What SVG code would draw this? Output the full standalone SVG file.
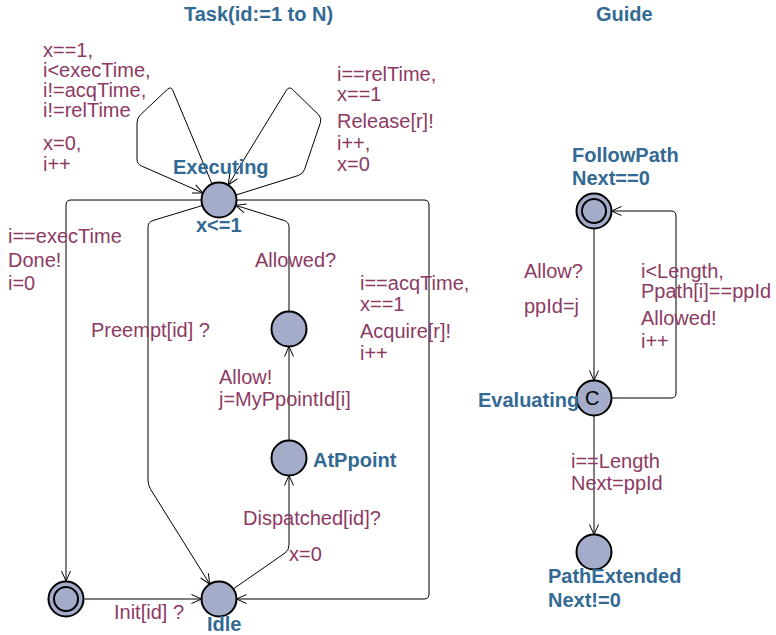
<svg xmlns="http://www.w3.org/2000/svg" width="776" height="635" viewBox="0 0 776 635">
  <defs>
    <marker id="arrow" viewBox="-12 -6 14 12" markerWidth="14" markerHeight="12" refX="0" refY="0" orient="auto" markerUnits="userSpaceOnUse">
      <path d="M -10 -4.5 L 0 0 L -10 4.5" fill="none" stroke="#000" stroke-width="1"/>
    </marker>
  </defs>
  <style>
    text { font-family: "Liberation Sans", Arial, Helvetica, sans-serif; font-size: 20px; }
    .title { font-weight: bold; fill: #336a94; }
    .name { font-weight: bold; fill: #336a94; }
    .lbl { fill: #8d3a63; }
    .loc { fill: #a4acca; stroke: #000; stroke-width: 2; }
    .inner { fill: none; stroke: #000; stroke-width: 2; }
    .edge { fill: none; stroke: #000; stroke-width: 1; marker-end: url(#arrow); }
  </style>
  <rect width="776" height="635" fill="#fff"/>

  <text class="title" x="184" y="21">Task(id:=1 to N)</text>
  <text class="title" x="596" y="21">Guide</text>

  <!-- transitions -->
  <g id="edges">
    <!-- Task: self loop on Executing (left) -->
    <path class="edge" d="M212,184 L172.9,90.6 Q171,86 167.4,89.4 L140.6,114.6 Q137,118 137,123 L137,159 Q137,164 141.6,166 L203,193"/>
    <!-- Task: self loop on Executing (right) -->
    <path class="edge" d="M236,195 L298.2,175.5 Q303,174 304.6,169.3 L320.4,122.7 Q322,118 318.4,114.5 L292.6,89.5 Q289,86 286.4,90.3 L228.3,185"/>
    <!-- Executing -> Idle (acquire) -->
    <path class="edge" d="M236.5,200 L424,200 Q429,200 429,205 L429,594 Q429,599 424,599 L236.5,599"/>
    <!-- Executing -> initial (done) -->
    <path class="edge" d="M201.5,200 L71,200 Q66,200 66,205 L66,581"/>
    <!-- Executing -> Idle (preempt) -->
    <path class="edge" d="M202.4,205.5 L153,220.5 Q148,222 148,227 L148,480 Q148,485 150.6,489.3 L209.8,584.1"/>
    <!-- waiting -> Executing (allowed) -->
    <path class="edge" d="M289,311.5 L289,227 Q289,222 284.2,220.5 L235.7,205.3"/>
    <!-- AtPpoint -> waiting (allow) -->
    <path class="edge" d="M289,440.5 L289,346.5"/>
    <!-- Idle -> AtPpoint (dispatched) -->
    <path class="edge" d="M233.3,588.9 L285,553 Q289,550 289,545 L289,475.5"/>
    <!-- initial -> Idle -->
    <path class="edge" d="M84.5,599 L201.5,599"/>
    <!-- Guide: FollowPath -> Evaluating -->
    <path class="edge" d="M594,228.5 L594,380.5"/>
    <!-- Guide: Evaluating -> FollowPath -->
    <path class="edge" d="M611.5,398 L671,398 Q676,398 676,393 L676,216 Q676,211 671,211 L611.5,211"/>
    <!-- Guide: Evaluating -> PathExtended -->
    <path class="edge" d="M594,415.5 L594,534.5"/>
  </g>

  <!-- transition labels -->
  <g id="edge-labels" class="lbl">
    <text class="lbl" x="43" y="57">x==1,</text>
    <text class="lbl" x="43" y="77">i&lt;execTime,</text>
    <text class="lbl" x="43" y="97">i!=acqTime,</text>
    <text class="lbl" x="43" y="117">i!=relTime</text>
    <text class="lbl" x="43" y="150">x=0,</text>
    <text class="lbl" x="43" y="171">i++</text>

    <text class="lbl" x="337" y="81">i==relTime,</text>
    <text class="lbl" x="337" y="101">x==1</text>
    <text class="lbl" x="337" y="128">Release[r]!</text>
    <text class="lbl" x="337" y="150">i++,</text>
    <text class="lbl" x="337" y="171">x=0</text>

    <text class="lbl" x="8" y="243">i==execTime</text>
    <text class="lbl" x="8" y="267">Done!</text>
    <text class="lbl" x="8" y="290">i=0</text>

    <text class="lbl" x="255" y="267">Allowed?</text>

    <text class="lbl" x="360" y="290">i==acqTime,</text>
    <text class="lbl" x="360" y="311">x==1</text>
    <text class="lbl" x="360" y="338">Acquire[r]!</text>
    <text class="lbl" x="360" y="360">i++</text>

    <text class="lbl" x="91" y="337">Preempt[id] ?</text>

    <text class="lbl" x="219" y="384">Allow!</text>
    <text class="lbl" x="219" y="406">j=MyPpointId[i]</text>

    <text class="lbl" x="243" y="525">Dispatched[id]?</text>
    <text class="lbl" x="289" y="561">x=0</text>

    <text class="lbl" x="114" y="619">Init[id] ?</text>

    <text class="lbl" x="524" y="278">Allow?</text>
    <text class="lbl" x="524" y="313">ppId=j</text>

    <text class="lbl" x="641" y="278">i&lt;Length,</text>
    <text class="lbl" x="641" y="298">Ppath[i]==ppId</text>
    <text class="lbl" x="641" y="325">Allowed!</text>
    <text class="lbl" x="641" y="348">i++</text>

    <text class="lbl" x="571" y="468">i==Length</text>
    <text class="lbl" x="571" y="490">Next=ppId</text>
  </g>

  <!-- Task locations -->
  <g id="executing">
    <circle class="loc" cx="219" cy="200" r="17.5"/>
    <text class="name" x="173" y="174">Executing</text>
    <text class="name" x="196" y="232">x&lt;=1</text>
  </g>
  <g id="waiting">
    <circle class="loc" cx="289" cy="329" r="17.5"/>
  </g>
  <g id="atppoint">
    <circle class="loc" cx="289" cy="458" r="17.5"/>
    <text class="name" x="313" y="467">AtPpoint</text>
  </g>
  <g id="idle">
    <circle class="loc" cx="219" cy="599" r="17.5"/>
    <text class="name" x="207" y="631">Idle</text>
  </g>
  <g id="task-init">
    <circle class="loc" cx="66" cy="599" r="17.5"/>
    <circle class="inner" cx="66" cy="599" r="12"/>
  </g>

  <!-- Guide locations -->
  <g id="followpath">
    <circle class="loc" cx="594" cy="211" r="17.5"/>
    <circle class="inner" cx="594" cy="211" r="12"/>
    <text class="name" x="572" y="162">FollowPath</text>
    <text class="name" x="572" y="185">Next==0</text>
  </g>
  <g id="evaluating">
    <circle class="loc" cx="594" cy="398" r="17.5"/>
    <text x="585" y="405" fill="#000">C</text>
    <text class="name" x="478" y="407">Evaluating</text>
  </g>
  <g id="pathextended">
    <circle class="loc" cx="594" cy="552" r="17.5"/>
    <text class="name" x="548" y="583">PathExtended</text>
    <text class="name" x="548" y="607">Next!=0</text>
  </g>
</svg>
